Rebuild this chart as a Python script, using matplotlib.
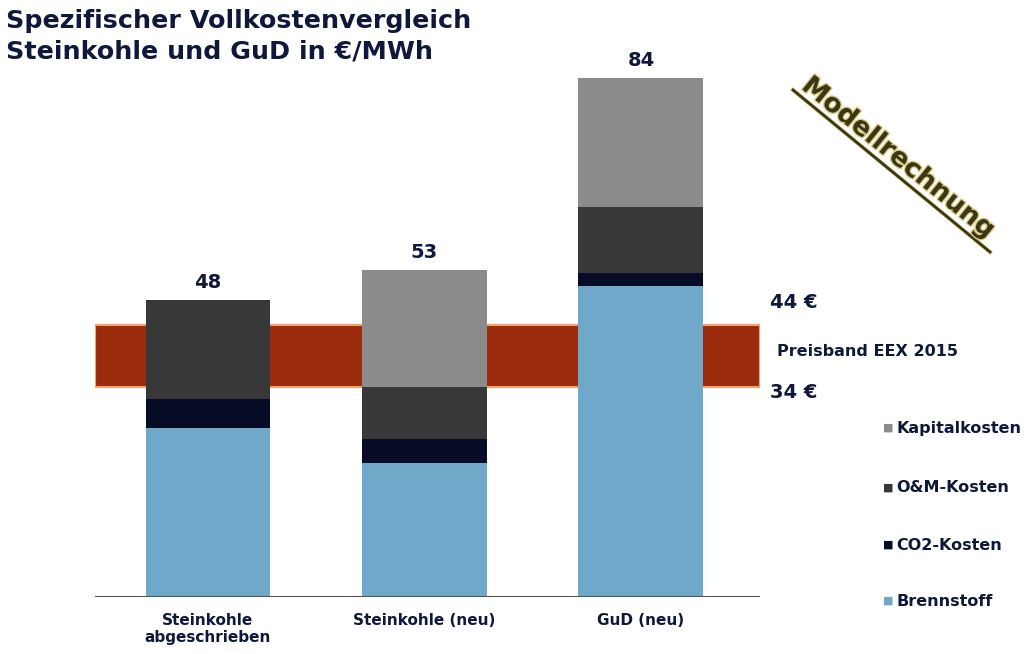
import matplotlib
matplotlib.use("Agg")
import matplotlib.pyplot as plt
import matplotlib.patheffects as pe
from matplotlib.lines import Line2D

# data (EUR/MWh)
categories = ["Steinkohle\nabgeschrieben", "Steinkohle (neu)", "GuD (neu)"]
totals = [48, 53, 84]
brennstoff = [27.4, 21.7, 50.4]
co2 = [4.7, 3.8, 2.1]
om = [15.9, 8.5, 10.6]
kapital = [0.0, 19.0, 20.9]
band_low, band_high = 34, 44

navy = "#0f183a"
c_kap = "#8b8b8b"
c_om = "#383838"
c_co2 = "#060b26"
c_brenn = "#6fa8c8"

W, H = 1031, 654
fig = plt.figure(figsize=(W / 100, H / 100), dpi=100)
# axes placed in pixel terms: x 95..760, y from 597 (baseline) up to 78
ax = fig.add_axes([95 / W, (H - 597) / H, (760 - 95) / W, (597 - 78) / H])
ax.set_xlim(-0.522, 2.55)
ax.set_ylim(0, 84)
ax.axis("off")

x = range(len(categories))
bw = 0.577

ax.axhspan(band_low, band_high, color="#9c2b0e", ec="#f2a46a", lw=1.5, zorder=1)

bottom = [0, 0, 0]
for vals, col in [(brennstoff, c_brenn), (co2, c_co2), (om, c_om), (kapital, c_kap)]:
    ax.bar(x, vals, bw, bottom=bottom, color=col, zorder=3)
    bottom = [b + v for b, v in zip(bottom, vals)]

ax.axhline(0, color="#555555", lw=1.5, zorder=4)

for xi, t in zip(x, totals):
    ax.text(xi, t + 1.3, str(t), ha="center", va="bottom", fontsize=14,
            fontweight="bold", color=navy, clip_on=False)

for xi, lab in zip(x, categories):
    ax.text(xi, -2.6, lab, ha="center", va="top", fontsize=11,
            fontweight="bold", color=navy, linespacing=1.2, clip_on=False)

# title
fig.text(6 / W, 1 - 9 / H, "Spezifischer Vollkostenvergleich\nSteinkohle und GuD in €/MWh",
         ha="left", va="top", fontsize=18.3, fontweight="bold", color=navy,
         linespacing=1.35)

# band annotations
fig.text(770 / W, 1 - 303 / H, "44 €", ha="left", va="center", fontsize=14,
         fontweight="bold", color=navy)
fig.text(777 / W, 1 - 351 / H, "Preisband EEX 2015", ha="left", va="center",
         fontsize=11.5, fontweight="bold", color=navy)
fig.text(770 / W, 1 - 392 / H, "34 €", ha="left", va="center", fontsize=14,
         fontweight="bold", color=navy)

# legend
leg_labels = ["Kapitalkosten", "O&M-Kosten", "CO2-Kosten", "Brennstoff"]
leg_colors = [c_kap, c_om, c_co2, c_brenn]
leg_y = [428, 488, 545, 601]
for lab, col, yy in zip(leg_labels, leg_colors, leg_y):
    fig.text(883 / W, 1 - yy / H, "■", ha="left", va="center", fontsize=8, color=col)
    fig.text(896 / W, 1 - yy / H, lab, ha="left", va="center", fontsize=11.5,
             fontweight="bold", color=navy)

# "Modellrechnung" stamp
fig.text(898 / W, 1 - 158 / H, "Modellrechnung", ha="center", va="center",
         rotation=-39, rotation_mode="anchor", fontsize=19, fontweight="bold",
         color="#3b3616",
         path_effects=[pe.withStroke(linewidth=2, foreground="#d9cd86")])
fig.add_artist(Line2D([793 / W, 990 / W], [1 - 90 / H, 1 - 252 / H],
                      color="#3b3616", lw=2,
                      path_effects=[pe.withStroke(linewidth=3, foreground="#d9cd86")]))

fig.savefig("out.png", dpi=100)
